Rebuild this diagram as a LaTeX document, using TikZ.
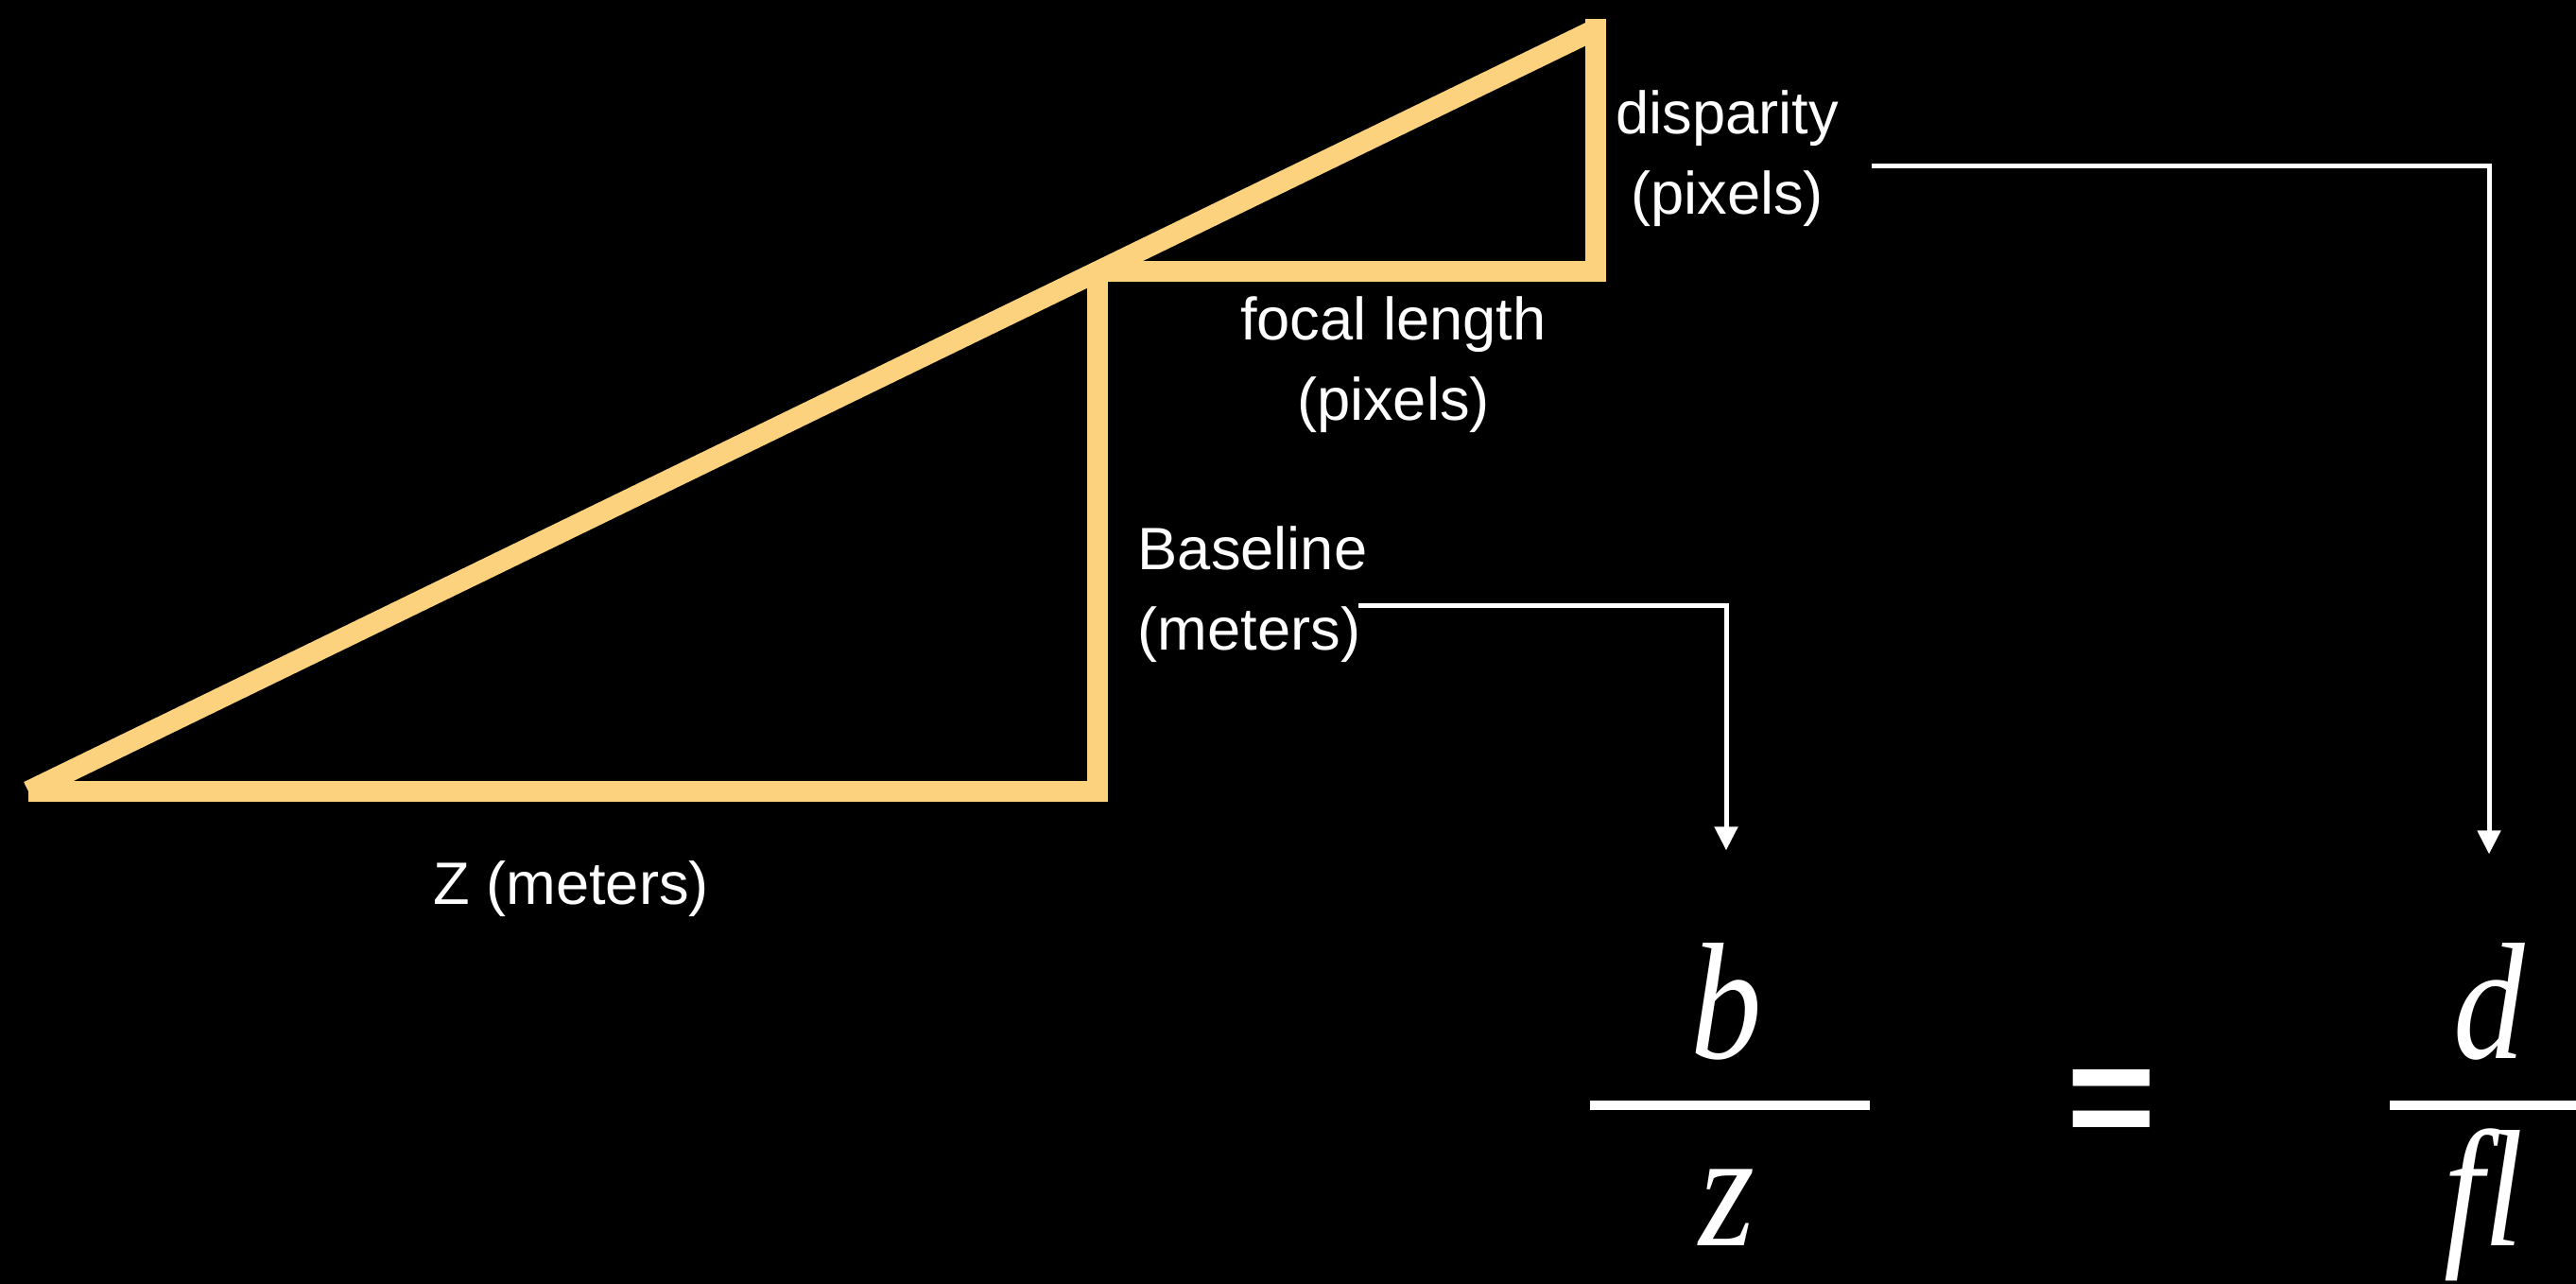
\documentclass[tikz,border=0pt]{standalone}
\usepackage{fontspec}
\setmainfont{Liberation Sans}
\newfontfamily\eqserif{Liberation Serif}[FakeStretch=0.86]
\usepackage{xcolor}
\usepackage{tikz}
\usetikzlibrary{arrows.meta}
\definecolor{DPGold}{HTML}{FDD27F}
\definecolor{DPBack}{HTML}{000000}

\begin{document}
\begin{tikzpicture}[x=1cm,y=1cm,
  lbl/.style={text=white,inner sep=0pt,align=center,font=\fontsize{18}{24.2}\selectfont},
  sym/.style={text=white,inner sep=0pt,anchor=base,font=\eqserif\itshape\fontsize{50}{50}\selectfont},
  tri/.style={draw=DPGold,line width=0.22cm,line join=miter,line cap=butt},
  conn/.style={draw=white,line width=0.05cm,-{Triangle[length=0.25cm,width=0.24cm]}},
  fracbar/.style={draw=white,line width=0.10cm}]
\path[use as bounding box] (0,0) rectangle (27.25,13.58);
\fill[DPBack] (0,0) rectangle (27.25,13.58);
\clip (0,0) rectangle (27.25,13.58);
% the two similar triangles
\draw[tri] (0.30,5.21) -- (11.61,5.21) -- (11.61,10.71);
\draw[tri] (11.61,10.71) -- (16.88,10.71) -- (16.88,13.38);
\draw[tri] (0.30,5.21) -- (16.88,13.27);
% side labels
\node[lbl,anchor=north] (disp) at (18.27,12.63) {disparity\\(pixels)};
\node[lbl,anchor=north] (focal) at (14.74,10.45) {focal length\\(pixels)};
\node[lbl,anchor=north west,align=left] (base) at (12.03,8.02) {Baseline\\(meters)};
\node[lbl,anchor=base] (zdist) at (6.04,4.01) {Z (meters)};
% b/z = d/fl
\node[sym] (numb) at (18.26,2.38) {b};
\node[sym] (denz) at (18.27,0.40) {z};
\node[sym] (numd) at (26.33,2.38) {d};
\node[sym] (denfl) at (26.27,0.40) {fl};
\node[text=white,inner sep=0pt,font=\bfseries\fontsize{46}{46}\selectfont] (eqs) at (22.34,1.85) {=};
\draw[fracbar] (16.82,1.89) -- (19.78,1.89);
\draw[fracbar] (25.28,1.89) -- (27.40,1.89);
% pointers
\draw[conn,shorten >=0.98cm] ([xshift=-0.1cm,yshift=-0.12cm]base.east) -| (numb.north);
\draw[conn,shorten >=0.94cm] ([xshift=0.34cm,yshift=-0.08cm]disp.east) -| (numd.north);
\end{tikzpicture}
\end{document}
